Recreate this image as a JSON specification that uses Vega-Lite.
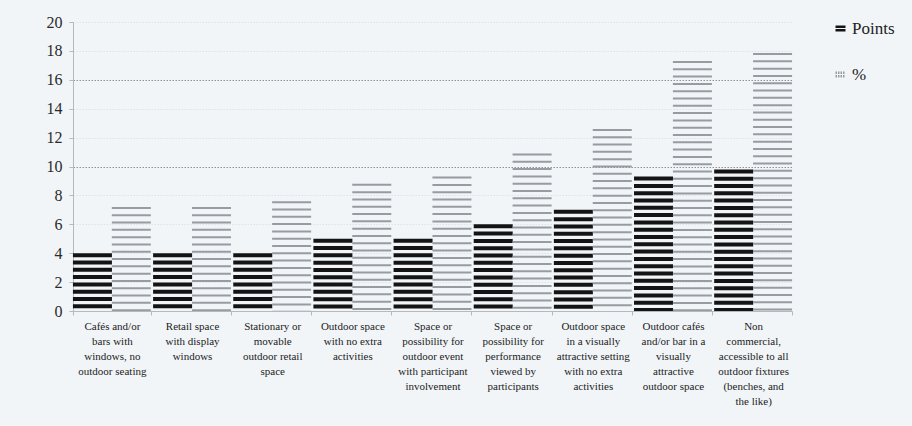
{
  "$schema": "https://vega.github.io/schema/vega-lite/v6.json",
  "width": 719,
  "height": 289,
  "autosize": "none",
  "padding": {"left": 73, "top": 22, "right": 120, "bottom": 115},
  "background": "#f1f5f8",
  "config": {
    "view": {"stroke": null},
    "font": "Times New Roman",
    "axis": {"labelFont": "Times New Roman"},
    "legend": {"labelFont": "Times New Roman"}
  },
  "data": {
    "values": [
      {"category": "Cafés and/or|bars with|windows, no|outdoor seating", "series": "Points", "value": 4},
      {"category": "Cafés and/or|bars with|windows, no|outdoor seating", "series": "%", "value": 7.2},
      {"category": "Retail space|with display|windows", "series": "Points", "value": 4},
      {"category": "Retail space|with display|windows", "series": "%", "value": 7.2},
      {"category": "Stationary or|movable|outdoor retail|space", "series": "Points", "value": 4},
      {"category": "Stationary or|movable|outdoor retail|space", "series": "%", "value": 7.6},
      {"category": "Outdoor space|with no extra|activities", "series": "Points", "value": 5},
      {"category": "Outdoor space|with no extra|activities", "series": "%", "value": 8.8},
      {"category": "Space or|possibility for|outdoor event|with participant|involvement", "series": "Points", "value": 5},
      {"category": "Space or|possibility for|outdoor event|with participant|involvement", "series": "%", "value": 9.3},
      {"category": "Space or|possibility for|performance|viewed by|participants", "series": "Points", "value": 6},
      {"category": "Space or|possibility for|performance|viewed by|participants", "series": "%", "value": 10.9},
      {"category": "Outdoor space|in a visually|attractive setting|with no extra|activities", "series": "Points", "value": 7},
      {"category": "Outdoor space|in a visually|attractive setting|with no extra|activities", "series": "%", "value": 12.6},
      {"category": "Outdoor cafés|and/or bar in a|visually|attractive|outdoor space", "series": "Points", "value": 9.3},
      {"category": "Outdoor cafés|and/or bar in a|visually|attractive|outdoor space", "series": "%", "value": 17.3},
      {"category": "Non|commercial,|accessible to all|outdoor fixtures|(benches, and|the like)", "series": "Points", "value": 9.8},
      {"category": "Non|commercial,|accessible to all|outdoor fixtures|(benches, and|the like)", "series": "%", "value": 17.85}
    ]
  },
  "mark": {"type": "rule", "strokeWidth": 39, "strokeCap": "butt"},
  "encoding": {
    "x": {
      "field": "category",
      "type": "nominal",
      "sort": null,
      "scale": {"paddingInner": 0.03, "paddingOuter": 0},
      "axis": {
        "title": null,
        "labelAngle": 0,
        "labelExpr": "split(datum.label, '|')",
        "labelFontSize": 11,
        "labelLineHeight": 15,
        "labelColor": "#222222",
        "labelPadding": 5,
        "labelBaseline": "top",
        "tickBand": "extent",
        "tickSize": 4,
        "tickColor": "#b5b9bc",
        "domainColor": "#b5b9bc",
        "labelLimit": 200
      }
    },
    "xOffset": {
      "field": "series",
      "type": "nominal",
      "sort": ["Points", "%"],
      "scale": {"paddingInner": 0, "paddingOuter": 0}
    },
    "y": {
      "field": "value",
      "type": "quantitative",
      "scale": {"domain": [0, 20]},
      "axis": {
        "title": null,
        "values": [0, 2, 4, 6, 8, 10, 12, 14, 16, 18, 20],
        "labelFontSize": 16,
        "labelColor": "#2a2a2a",
        "labelPadding": 7,
        "tickSize": 4,
        "tickColor": "#b5b9bc",
        "domainColor": "#b5b9bc",
        "grid": true,
        "gridDash": [1.5, 1.5],
        "gridColor": {"condition": {"test": "datum.value === 10 || datum.value === 16", "value": "#8f9396"}, "value": "#dde3e6"}
      }
    },
    "y2": {"datum": 0},
    "color": {
      "field": "series",
      "type": "nominal",
      "sort": ["Points", "%"],
      "scale": {"domain": ["Points", "%"], "range": ["#141414", "#979ca0"]},
      "legend": {
        "title": null,
        "orient": "none",
        "legendX": 759,
        "legendY": -2,
        "labelFontSize": 17,
        "labelColor": "#222222",
        "rowPadding": 28,
        "symbolType": "M-1,-0.35H1M-1,0.35H1",
        "symbolSize": 100,
        "symbolStrokeWidth": 2.5,
        "labelOffset": 3,
        "encode": {
          "symbols": {"update": {"strokeDash": {"signal": "datum.label === 'Points' ? [1, 0] : [1.5, 1]"}}}
        }
      }
    },
    "strokeDash": {
      "condition": {"test": "datum.series === 'Points'", "value": [4, 3.3]},
      "value": [2, 5.3]
    }
  }
}
